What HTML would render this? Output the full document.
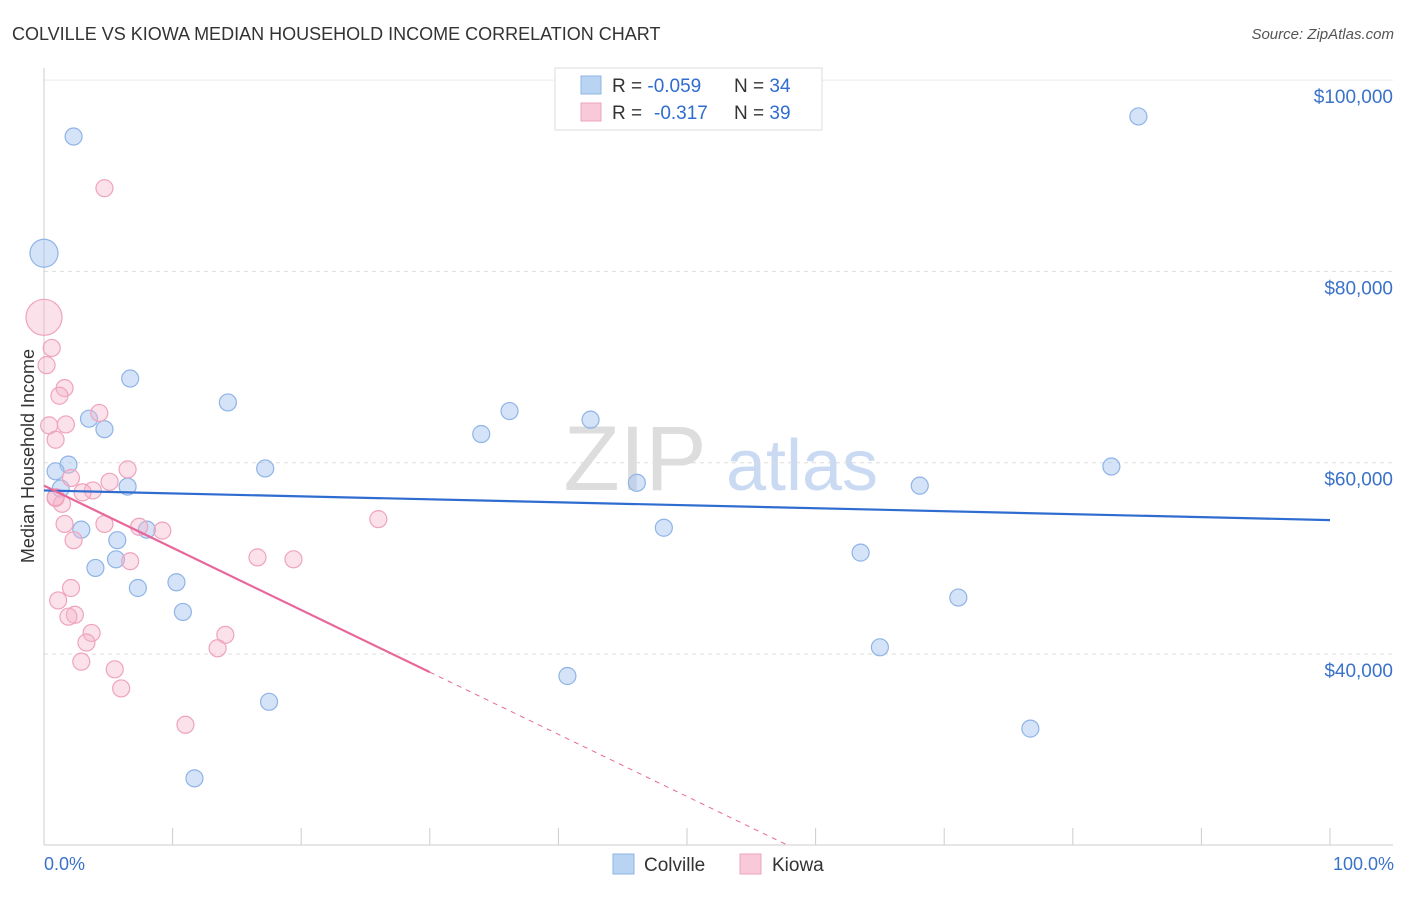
<!DOCTYPE html>
<html><head><meta charset="utf-8">
<style>
body{margin:0;background:#fff;font-family:"Liberation Sans",sans-serif;}
svg text{font-family:"Liberation Sans",sans-serif;}
</style></head>
<body>
<svg width="1406" height="892" viewBox="0 0 1406 892">
<text x="12" y="40" font-size="18" fill="#333">COLVILLE VS KIOWA MEDIAN HOUSEHOLD INCOME CORRELATION CHART</text>
<text x="1394" y="39" font-size="15" fill="#555" text-anchor="end" font-style="italic">Source: ZipAtlas.com</text>
<g>
<text x="635" y="490" font-size="92" fill="#ddd" text-anchor="middle" font-family="Liberation Serif">ZIP</text>
<text x="802" y="490" font-size="72" fill="#c9daf2" text-anchor="middle">atlas</text>
</g>
<g id="grid"></g>
<g id="marks"></g>
<text transform="translate(34,456) rotate(-90)" font-size="18" fill="#333" text-anchor="middle">Median Household Income</text>
<text x="44" y="870" font-size="18" fill="#3a72c9">0.0%</text>
<text x="1394" y="870" font-size="18" fill="#3a72c9" text-anchor="end">100.0%</text>
<g>
<rect x="555" y="68" width="267" height="62" fill="#fff" stroke="#ddd"/>
<rect x="581" y="76" width="20" height="18" fill="#b9d3f3" stroke="#8fb4e6"/>
<rect x="581" y="103" width="20" height="18" fill="#f8c9d8" stroke="#efa3bd"/>
<text x="612" y="92" font-size="19" fill="#333">R = <tspan fill="#2f6cd0">-0.059</tspan><tspan x="734">N = </tspan><tspan fill="#2f6cd0">34</tspan></text>
<text x="612" y="119" font-size="19" fill="#333">R = <tspan fill="#2f6cd0" x="654">-0.317</tspan><tspan x="734">N = </tspan><tspan fill="#2f6cd0">39</tspan></text>
</g>
<g>
<rect x="613" y="854" width="21" height="20" fill="#b9d3f3" stroke="#8fb4e6"/>
<text x="644" y="871" font-size="19" fill="#333">Colville</text>
<rect x="740" y="854" width="21" height="20" fill="#f8c9d8" stroke="#efa3bd"/>
<text x="772" y="871" font-size="19" fill="#333">Kiowa</text>
</g>
</svg>
<script>
const colvilleX=[2.3,0,6.7,14.3,3.5,4.7,36.2,42.5,34.0,1.9,0.9,17.2,83.0,1.3,6.5,46.1,68.1,2.9,8.0,48.2,5.7,5.6,4.0,63.5,10.3,7.3,71.1,10.8,65.0,40.7,17.5,76.7,11.7,85.1];
const colvilleY=[94.1,81.9,68.8,66.3,64.6,63.5,65.4,64.5,63.0,59.8,59.1,59.4,59.6,57.3,57.5,57.9,57.6,53.0,53.0,53.2,51.9,49.9,49.0,50.6,47.5,46.9,45.9,44.4,40.7,37.7,35.0,32.2,27.0,96.2];
const kiowaX=[4.7,0,0.6,0.2,1.6,1.2,4.3,0.4,1.7,0.9,2.1,6.5,5.1,3.8,3.0,0.9,1.4,1.6,4.7,7.4,9.2,2.3,6.7,16.6,19.4,26.0,2.1,1.1,2.4,1.9,3.7,14.1,3.3,13.5,2.9,5.5,6.0,11.0,0.9];
const kiowaY=[88.7,75.2,72.0,70.2,67.8,67.0,65.2,63.9,64.0,62.4,58.4,59.3,58.0,57.1,56.9,56.3,55.7,53.6,53.6,53.3,52.9,51.9,49.7,50.1,49.9,54.1,46.9,45.6,44.1,43.9,42.2,42.0,41.2,40.6,39.2,38.4,36.4,32.6,56.4];
const colvilleTrend=[57.1,54.0];
const kiowaTrend=[57.6,38.1];
const yTicks=[40,60,80,100];
const yTickLabels=["$40,000","$60,000","$80,000","$100,000"];
const xTicks=[0,10,20,30,40,50,60,70,80,90,100];
const NS="http://www.w3.org/2000/svg";
const X=v=>44+v*12.86;
const Y=v=>654-(v-40)*9.565;
function mk(tag,at,parent){const e=document.createElementNS(NS,tag);for(const k in at)e.setAttribute(k,at[k]);parent.appendChild(e);return e;}
const grid=document.getElementById('grid'),marks=document.getElementById('marks');
yTicks.forEach((t,i)=>{
 const l=mk('line',{x1:44,x2:1393,y1:Y(t),y2:Y(t),stroke:'#ddd','stroke-dasharray':'4,4'},grid);
 
 
 const tx=mk('text',{x:1393,y:Y(t)+23,'font-size':19,fill:'#3a72c9','text-anchor':'end'},grid);
 tx.textContent=yTickLabels[i];
 
 
});
const yTop=mk('line',{x1:44,x2:1393,y1:Y(100),y2:Y(100),stroke:'#eee'},grid);


const ax=mk('line',{x1:44,x2:44,y1:68,y2:845,stroke:'#ccc'},grid);


const bx=mk('line',{x1:44,x2:1393,y1:845,y2:845,stroke:'#ccc'},grid);


xTicks.forEach(t=>{
 const l=mk('line',{x1:X(t),x2:X(t),y1:828,y2:845,stroke:'#ccc'},grid);
 
 
});
function dots(xs,ys,fill,stroke,name,big,bigR){
 xs.forEach((x,i)=>{
  const r=(i===big)?bigR:8.5;
  const c=mk('circle',{cx:X(x),cy:Y(ys[i]),r:r,fill:fill,stroke:stroke,'stroke-width':1.2},marks);
  
  
 });
}
dots(colvilleX,colvilleY,'rgba(170,200,242,0.5)','#8fb4e6','colville-point',1,14);
dots(kiowaX,kiowaY,'rgba(246,180,202,0.4)','#efa3bd','kiowa-point',1,18);
const bl=mk('line',{x1:X(0),y1:Y(colvilleTrend[0]),x2:X(100),y2:Y(colvilleTrend[1]),stroke:'#2f6cd0','stroke-width':2.2},marks);


const ks=(kiowaTrend[1]-kiowaTrend[0])/30;
const kl=mk('line',{x1:X(0),y1:Y(kiowaTrend[0]),x2:X(30),y2:Y(kiowaTrend[1]),stroke:'#e8679a','stroke-width':2.2},marks);


const xEnd=(20-kiowaTrend[0])/ks;
const kd=mk('line',{x1:X(30),y1:Y(kiowaTrend[1]),x2:X(xEnd),y2:Y(20),stroke:'#e8679a','stroke-width':1,'stroke-dasharray':'5,5'},marks);


</script>
</body></html>
